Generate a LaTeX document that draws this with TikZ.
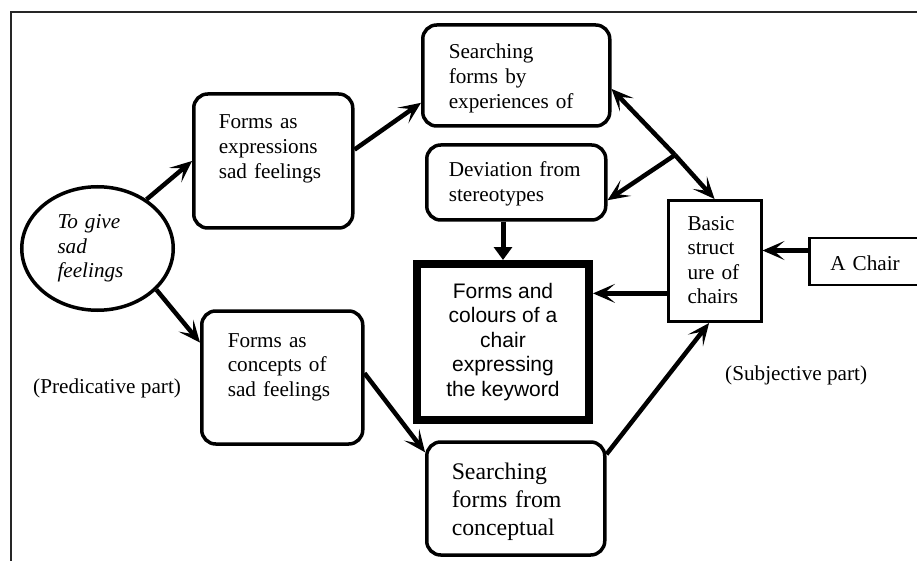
\documentclass[tikz,border=0pt]{standalone}
\usepackage{fontspec}
\setmainfont{Liberation Serif}
\setsansfont{Liberation Sans}
\usetikzlibrary{shapes.geometric, arrows.meta}

\tikzset{
  rbox/.style={draw, rounded corners=14pt, line width=3.5pt, align=left, anchor=base west, inner ysep=0pt},
  sbox/.style={draw, line width=3pt, align=left, anchor=base west, inner ysep=0pt},
  keybox/.style={draw, line width=8pt, align=center, inner sep=0pt, font=\sffamily\fontsize{21}{24.5}\selectfont},
  link/.style={-{Stealth[length=22pt, width=19pt, inset=11pt]}, line width=4.5pt},
  flow/.style={-{Triangle[length=13pt, width=18pt]}, line width=5pt},
  frame/.style={draw=black!85, line width=2pt}
}

\begin{document}
\begin{tikzpicture}[x=1pt, y=-1pt, font=\fontsize{21.2}{24.6}\selectfont]
\useasboundingbox (0,0) rectangle (917,561);
\draw[frame] (11,561) -- (11,12) -- (917,12);

\node[ellipse, draw, line width=3.5pt, minimum width=151.5pt, minimum height=123.5pt, inner sep=0pt, align=left, text width=80pt, font=\itshape\fontsize{21.2}{24.6}\selectfont] (give) at (97.5,248.5) {To give\\sad\\feelings};

\node[rbox, inner xsep=25pt, text width=109pt, text height=35pt, text depth=99pt] (expr) at (192,129) {Forms as\\expressions\\sad feelings};
\node[rbox, inner xsep=26pt, text width=135pt, text height=34pt, text depth=67pt] (sexp) at (421,59) {Searching\\forms by\\experiences of};
\node[rbox, inner xsep=22pt, text width=135pt, text height=32pt, text depth=43pt] (dev) at (425,177) {Deviation from\\stereotypes};
\node[keybox, minimum width=172pt, minimum height=156pt] (key) at (503,342) {Forms and\\colours of a\\chair\\expressing\\the keyword};
\node[sbox, inner xsep=19.5pt, text width=54pt, text height=29.5pt, text depth=91.5pt] (basic) at (666.5,230) {Basic\\struct\\ure of\\chairs};
\node[sbox, line width=2.5pt, inner xsep=21pt, text width=100pt, text height=32pt, text depth=15pt] (chair) at (808,270) {A Chair};
\node[rbox, inner xsep=26pt, text width=109pt, text height=36pt, text depth=97pt] (conc) at (200,347) {Forms as\\concepts of\\sad feelings};
\node[rbox, inner xsep=25pt, text width=128pt, text height=37pt, text depth=76pt, font=\fontsize{23.8}{28.3}\selectfont] (sconc) at (425,479) {Searching\\forms from\\conceptual};

\node[anchor=base west, inner sep=0pt] (pred) at (33,393) {(Predicative part)};
\node[anchor=base west, inner sep=0pt] (subj) at (725,380) {(Subjective part)};

\coordinate (jn) at (675,155);

\draw[link] (give.45) -- (expr.west);
\draw[link] (expr.8) -- (sexp.196);
\draw[link] (jn) -- (sexp.-8);
\draw[link] (jn) -- (basic.north);
\draw[link] (jn) -- (dev.-11);
\draw[flow] (key.north |- dev.south) -- (key.north);
\draw[link] (basic.214) -- (basic.214 -| key.east);
\draw[link] ([yshift=11pt]chair.west) -- ([yshift=11pt]chair.west -| basic.east);
\draw[link] (give.-35) -- (conc.157);
\draw[link] (conc.3) -- (sconc.153);
\draw[link] (sconc.26) -- (basic.265);
\end{tikzpicture}
\end{document}
